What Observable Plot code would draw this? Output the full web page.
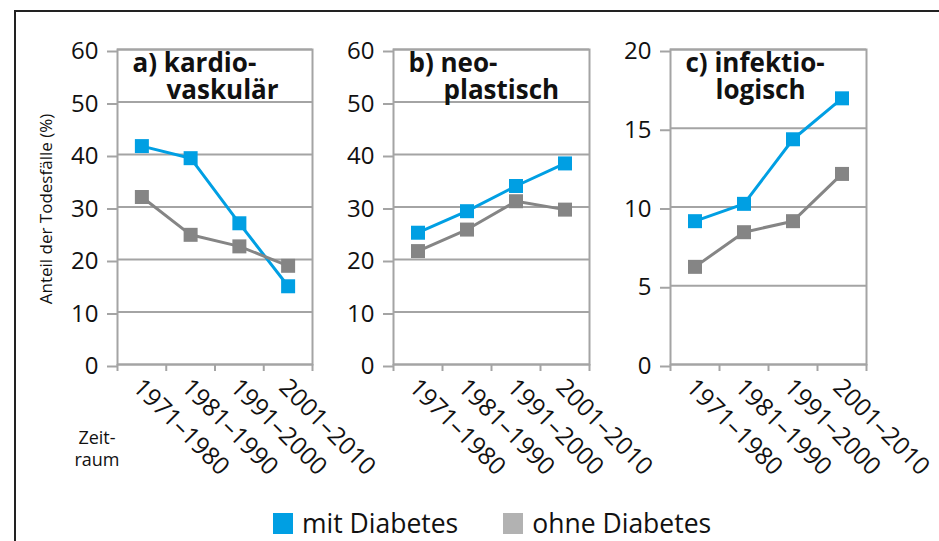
<!DOCTYPE html>
<html>
<head>
<meta charset="utf-8">
<script src="https://cdn.jsdelivr.net/npm/d3@7"></script>
<script src="https://cdn.jsdelivr.net/npm/@observablehq/plot@0.6"></script>
<style>
  html, body { margin: 0; padding: 0; background: white; }
  #root { position: relative; width: 939px; height: 541px; overflow: hidden; background: white;
          font-family: "Open Sans", "Noto Sans", sans-serif; color: #111; }
  .frame { position: absolute; left: 14px; top: 10px; width: 940px; height: 600px;
           border-left: 2px solid #222; border-top: 2px solid #222; }
  .panel { position: absolute; top: 0; }
  .panel svg { overflow: visible; }
  #ylabel { position: absolute; left: 45px; top: 209px; transform: translate(-50%, -50%) rotate(-90deg);
            font-size: 17px; white-space: nowrap; }
  #zeit { position: absolute; left: 97px; top: 426px; transform: translateX(-50%); font-size: 18px;
          line-height: 22px; text-align: center; }
  #legend { position: absolute; left: 273px; top: 505px; display: flex; align-items: center; font-size: 26.5px; }
  #legend .item { display: flex; align-items: center; margin-right: 45px; }
  #legend .sw { width: 20px; height: 21px; margin-right: 9px; }
</style>
</head>
<body>
<div id="root">
  <div class="frame"></div>
  <div id="ylabel"></div>
  <div id="zeit"></div>
  <div id="legend"></div>
</div>
<script>
// ---- data ----
const periods = ["1971–1980", "1981–1990", "1991–2000", "2001–2010"];
const series = ["mit Diabetes", "ohne Diabetes"];
const mitA = [41.6, 39.3, 26.9, 14.9];
const ohneA = [31.9, 24.7, 22.5, 18.8];
const mitB = [25.1, 29.2, 34.0, 38.3];
const ohneB = [21.6, 25.7, 31.1, 29.5];
const mitC = [9.1, 10.2, 14.3, 16.9];
const ohneC = [6.2, 8.4, 9.1, 12.1];
const yTicksAB = [0, 10, 20, 30, 40, 50, 60];
const yTicksC = [0, 5, 10, 15, 20];
const titleA = ["a) kardio-", "vaskulär"];
const titleB = ["b) neo-", "plastisch"];
const titleC = ["c) infektio-", "logisch"];
const yLabel = "Anteil der Todesfälle (%)";
const xLabel = ["Zeit-", "raum"];

// ---- styles ----
const BLUE = "#009fe3", GRAY = "#858585", LEGGRAY = "#b2b2b2", GRID = "#a4a4a4";

document.getElementById("ylabel").textContent = yLabel;
document.getElementById("zeit").innerHTML = xLabel.join("<br>");
const leg = document.getElementById("legend");
series.forEach((s, i) => {
  const it = document.createElement("div"); it.className = "item";
  const sw = document.createElement("div"); sw.className = "sw";
  sw.style.background = i === 0 ? BLUE : LEGGRAY;
  const tx = document.createElement("span"); tx.textContent = s;
  it.appendChild(sw); it.appendChild(tx); leg.appendChild(it);
});

function panel(plotLeft, plotWidth, mit, ohne, yTicks, yMax, title, indent) {
  const data = [];
  periods.forEach((p, i) => {
    data.push({i: i + 0.5, v: mit[i], s: series[0]});
    data.push({i: i + 0.5, v: ohne[i], s: series[1]});
  });
  const mL = 60, mR = 60, mT = 49, mB = 177;
  const chart = Plot.plot({
    width: mL + plotWidth + mR,
    height: 541,
    marginLeft: mL, marginRight: mR, marginTop: mT, marginBottom: mB,
    style: {background: "transparent", overflow: "visible", fontFamily: "'Open Sans', 'Noto Sans', sans-serif", color: "#111"},
    x: {type: "linear", domain: [0, 4], axis: null},
    y: {domain: [0, yMax], axis: null},
    color: {domain: series, range: [BLUE, GRAY]},
    marks: [
      Plot.ruleY(yTicks, {stroke: GRID, strokeWidth: 2}),
      Plot.frame({stroke: GRID, strokeWidth: 2}),
      Plot.axisY({ticks: yTicks, tickSize: 10, tickPadding: 9, stroke: GRID, strokeWidth: 2, label: null,
                  fill: "#111", fontSize: 24, dy: 2, tickFormat: d => d}),
      Plot.axisX({ticks: [0, 1, 2, 3, 4], tickSize: 7, stroke: GRID, strokeWidth: 2, label: null, tickFormat: () => ""}),
      Plot.text(periods, {x: (d, i) => i + 0.5, frameAnchor: "bottom", text: d => d, rotate: 45,
                          textAnchor: "start", lineAnchor: "top", dx: 2, dy: 12, fontSize: 24.5, fill: "#111"}),
      Plot.line(data, {x: "i", y: "v", z: "s", stroke: "s", strokeWidth: 3}),
      Plot.dot(data, {x: "i", y: "v", fill: "s", symbol: "square", r: 7.9, stroke: null}),
      Plot.text([title[0]], {frameAnchor: "top-left", text: d => d, textAnchor: "start", lineAnchor: "top",
                             dx: 15, dy: 4, fontSize: 26, fontWeight: "bold", fill: "#111"}),
      Plot.text([title[1]], {frameAnchor: "top-left", text: d => d, textAnchor: "start", lineAnchor: "top",
                             dx: 15 + indent, dy: 31, fontSize: 26, fontWeight: "bold", fill: "#111"})
    ]
  });
  const div = document.createElement("div");
  div.className = "panel";
  div.style.left = (plotLeft - mL) + "px";
  div.appendChild(chart);
  document.getElementById("root").appendChild(div);
}

panel(117, 195, mitA, ohneA, yTicksAB, 60, titleA, 34);
panel(393, 196, mitB, ohneB, yTicksAB, 60, titleB, 35);
panel(670, 196, mitC, ohneC, yTicksC, 20, titleC, 30);
const root = document.getElementById("root");
root.appendChild(document.getElementById("legend"));
</script>
</body>
</html>
